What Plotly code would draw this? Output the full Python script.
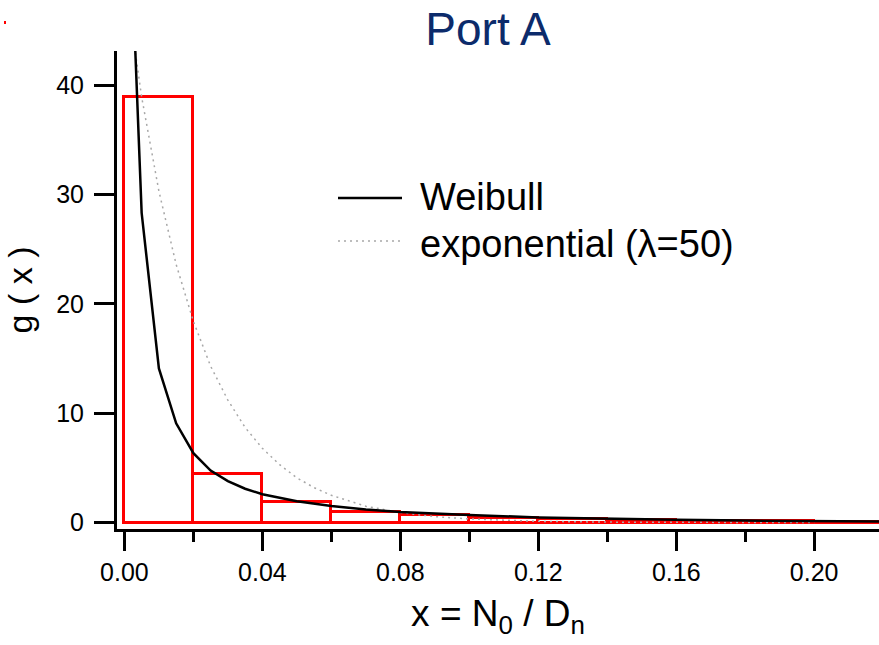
import plotly.graph_objects as go

# Histogram of observed ratios (bin edges every 0.02)
bin_left = [0.00, 0.02, 0.04, 0.06, 0.08, 0.10, 0.12, 0.14, 0.16, 0.18, 0.20]
bin_height = [38.9, 4.45, 1.87, 1.0, 0.68, 0.45, 0.30, 0.22, 0.16, 0.12, 0.10]
bin_width = 0.02

# Fitted Weibull density
weibull_x = [0.0025, 0.005, 0.010, 0.015, 0.020, 0.025, 0.030, 0.035, 0.040,
             0.050, 0.060, 0.070, 0.080, 0.090, 0.100, 0.120, 0.140, 0.160,
             0.180, 0.200, 0.220]
weibull_y = [48.4, 28.3, 14.1, 9.08, 6.35, 4.76, 3.8, 3.1, 2.6,
             1.95, 1.53, 1.2, 0.98, 0.82, 0.70, 0.48, 0.35, 0.26,
             0.19, 0.14, 0.10]

# Exponential density, lambda = 50
expo_x = [0.000, 0.005, 0.010, 0.015, 0.020, 0.025, 0.030, 0.035, 0.040,
          0.045, 0.050, 0.055, 0.060, 0.070, 0.080, 0.090, 0.100, 0.120,
          0.140, 0.160, 0.180, 0.200]
expo_y = [50.0, 38.9, 30.3, 23.6, 18.4, 14.3, 11.2, 8.7, 6.8,
          5.3, 4.1, 3.2, 2.5, 1.5, 0.92, 0.55, 0.34, 0.12,
          0.05, 0.02, 0.006, 0.002]

x_ticks = [0.00, 0.04, 0.08, 0.12, 0.16, 0.20]
y_ticks = [0, 10, 20, 30, 40]

FONT = "Liberation Sans, Arial, sans-serif"
W, H = 879, 645
L, R, T, B = 117, 0, 51, 116

fig = go.Figure()

fig.add_trace(go.Bar(
    x=[b + bin_width / 2 for b in bin_left],
    y=bin_height,
    width=bin_width,
    marker=dict(color="rgba(0,0,0,0)", line=dict(color="#ff0000", width=3)),
    showlegend=False,
    hoverinfo="skip",
))

fig.add_trace(go.Scatter(
    x=expo_x, y=expo_y, mode="lines",
    line=dict(color="#a8a8a8", width=1.5, dash="2px,4px"),
    showlegend=False,
))

fig.add_trace(go.Scatter(
    x=weibull_x, y=weibull_y, mode="lines",
    line=dict(color="black", width=2.5),
    showlegend=False,
))

axis_common = dict(
    showline=True, linecolor="black", linewidth=3, mirror=False,
    showgrid=False, zeroline=False,
    ticks="outside", tickwidth=3, tickcolor="black",
    tickfont=dict(family=FONT, size=25, color="black"),
)

fig.update_xaxes(
    range=[-0.00215, 0.2188],
    tickvals=x_ticks, ticktext=[f"{v:.2f}" for v in x_ticks],
    ticklen=19,
    minor=dict(dtick=0.02, tick0=0, ticklen=10, tickwidth=3,
               tickcolor="black", ticks="outside"),
    title=dict(text="x = N<sub>0</sub> / D<sub>n</sub>",
               font=dict(family=FONT, size=37, color="black"), standoff=16),
    **axis_common,
)
fig.update_yaxes(
    range=[-0.58, 43.11],
    tickvals=y_ticks,
    ticklen=20,
    ticklabelstandoff=5,
    title=dict(text="g ( x )",
               font=dict(family=FONT, size=34, color="black"), standoff=14),
    **axis_common,
)

# Legend drawn as line samples with text labels
def px_to_paper(px, py):
    return (px - L) / (W - L - R), (H - B - py) / (H - T - B)

x0, y0 = px_to_paper(338, 198)
x1, _ = px_to_paper(402, 198)
fig.add_shape(type="line", xref="paper", yref="paper", x0=x0, x1=x1, y0=y0, y1=y0,
              line=dict(color="black", width=2.5))
x0, y1 = px_to_paper(338, 241)
fig.add_shape(type="line", xref="paper", yref="paper", x0=x0, x1=x1, y0=y1, y1=y1,
              line=dict(color="#a8a8a8", width=1.5, dash="2px,4px"))

tx, ty = px_to_paper(418, 197)
fig.add_annotation(text="Weibull", xref="paper", yref="paper", x=tx, y=ty,
                   xanchor="left", yanchor="middle", showarrow=False,
                   font=dict(family=FONT, size=38, color="black"))
tx, ty = px_to_paper(418, 244)
fig.add_annotation(text="exponential (λ=50)", xref="paper", yref="paper", x=tx, y=ty,
                   xanchor="left", yanchor="middle", showarrow=False,
                   font=dict(family=FONT, size=38, color="black"))

# Small red mark in the upper-left corner
mx0, my0 = px_to_paper(4, 24)
mx1, my1 = px_to_paper(6, 21)
fig.add_shape(type="rect", xref="paper", yref="paper", x0=mx0, x1=mx1, y0=my0, y1=my1,
              line=dict(width=0), fillcolor="#ff0000")

fig.update_layout(
    width=W, height=H,
    margin=dict(l=L, r=R, t=T, b=B),
    paper_bgcolor="white", plot_bgcolor="white",
    bargap=0,
    title=dict(text="Port A", x=488 / W, xanchor="center", y=1 - 29 / H, yanchor="middle",
               font=dict(family=FONT, size=46, color="#0c2b6b")),
)

fig.write_html("out.html")
